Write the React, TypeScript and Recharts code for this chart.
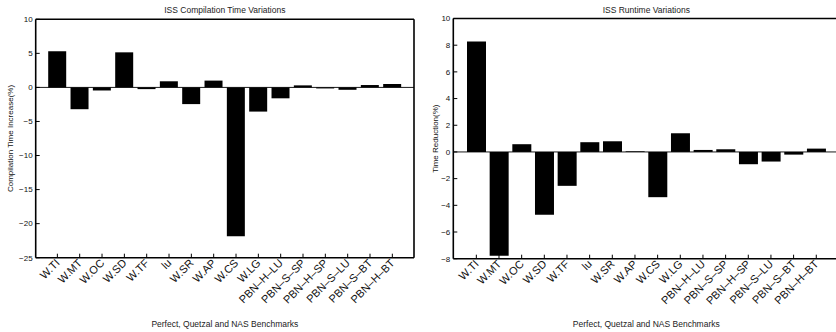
import React from 'react';
import { BarChart, Bar, XAxis, YAxis, ReferenceLine, Label } from 'recharts';

// Benchmarks along the x axis (Perfect, Quetzal and NAS suites)
const benchmarks = [
  'W.TI', 'W.MT', 'W.OC', 'W.SD', 'W.TF', 'lu', 'W.SR', 'W.AP', 'W.CS', 'W.LG',
  'PBN–H–LU', 'PBN–S–SP', 'PBN–H–SP', 'PBN–S–LU', 'PBN–S–BT', 'PBN–H–BT',
];

// Compilation time increase (%) per benchmark
const compileIncrease = [
  5.3, -3.2, -0.45, 5.15, -0.25, 0.9, -2.45, 1.0, -21.85, -3.55,
  -1.6, 0.3, -0.15, -0.35, 0.35, 0.5,
];

// Runtime reduction (%) per benchmark
const runtimeReduction = [
  8.28, -7.78, 0.58, -4.71, -2.54, 0.73, 0.8, 0.05, -3.39, 1.4,
  0.15, 0.2, -0.92, -0.72, -0.2, 0.25,
];

const compileTicks = [10, 5, 0, -5, -10, -15, -20, -25];
const runtimeTicks = [10, 8, 6, 4, 2, 0, -2, -4, -6, -8];

const FONT = '"Liberation Sans", Arial, Helvetica, sans-serif';
const INK = '#111';

const compileData = benchmarks.map((name, i) => ({ name, value: compileIncrease[i] }));
const runtimeData = benchmarks.map((name, i) => ({ name, value: runtimeReduction[i] }));

const fmt = (v: number) => String(v).replace('-', '\u2212');

// Left axis tick: label outside, short tick mark pointing into the plot
function YTick(props: any) {
  const { x, y, payload } = props;
  return (
    <g>
      <line x1={x} y1={y} x2={x + 4} y2={y} stroke="#000" strokeWidth={1} />
      <text x={x - 3} y={y} dy="0.35em" textAnchor="end" fontSize={8} fill={INK} fontFamily={FONT}>
        {fmt(payload.value)}
      </text>
    </g>
  );
}

// Bottom axis tick: inward tick mark and a label rotated by 45 degrees
function XTick(props: any) {
  const { x, y, payload } = props;
  const tx = x + 3;
  const ty = y + 6;
  return (
    <g>
      <line x1={x} y1={y} x2={x} y2={y - 4} stroke="#000" strokeWidth={1} />
      <g transform={`translate(${tx} ${ty}) rotate(-45)`}>
        <text x={0} y={0} textAnchor="end" fontSize={11} fill={INK} fontFamily={FONT}>
          {payload.value}
        </text>
      </g>
    </g>
  );
}

function yTitle(text: string, dx: number) {
  return (props: any) => {
    const vb = props.viewBox;
    const cx = vb.x + dx;
    const cy = vb.y + vb.height / 2;
    return (
      <g transform={`translate(${cx} ${cy}) rotate(-90)`}>
        <text x={0} y={0} textAnchor="middle" dominantBaseline="central" fontSize={8} fill={INK} fontFamily={FONT}>
          {text}
        </text>
      </g>
    );
  };
}

type PanelProps = {
  data: { name: string; value: number }[];
  title: string;
  yLabel: string;
  domain: [number, number];
  ticks: number[];
  width: number;
  margin: { top: number; right: number; bottom: number; left: number };
  pad: number;
  barSize: number;
  xHeight: number;
  yLabelDx: number;
};

function Panel(p: PanelProps) {
  const axisLine = { stroke: '#000', strokeWidth: 1.6 };
  return (
    <BarChart width={p.width} height={332} data={p.data} margin={p.margin}>
      <XAxis
        xAxisId="top"
        orientation="top"
        dataKey="name"
        mirror
        height={1}
        tick={false}
        tickSize={4}
        tickLine={{ stroke: '#000' }}
        axisLine={axisLine}
        padding={{ left: p.pad, right: p.pad }}
        interval={0}
      >
        <Label value={p.title} position="top" offset={6} fontSize={8.5} fill="#222" fontFamily={FONT} />
      </XAxis>
      <XAxis
        dataKey="name"
        height={p.xHeight}
        tick={<XTick />}
        tickLine={false}
        tickSize={0}
        tickMargin={0}
        axisLine={axisLine}
        padding={{ left: p.pad, right: p.pad }}
        interval={0}
      >
        <Label
          value="Perfect, Quetzal and NAS Benchmarks"
          position="insideBottom"
          offset={5}
          fontSize={8.5}
          fill="#222"
          fontFamily={FONT}
        />
      </XAxis>
      <YAxis
        type="number"
        domain={p.domain}
        ticks={p.ticks}
        width={30}
        tick={<YTick />}
        tickLine={false}
        tickSize={0}
        tickMargin={0}
        axisLine={axisLine}
        interval={0}
      >
        <Label content={yTitle(p.yLabel, p.yLabelDx)} />
      </YAxis>
      <YAxis
        yAxisId="r"
        orientation="right"
        type="number"
        domain={p.domain}
        ticks={p.ticks}
        width={1}
        mirror
        tick={false}
        tickSize={4}
        tickLine={{ stroke: '#000' }}
        axisLine={axisLine}
        interval={0}
      />
      <ReferenceLine y={0} stroke="#000" strokeWidth={0.9} />
      <Bar dataKey="value" fill="#000" barSize={p.barSize} isAnimationActive={false} />
    </BarChart>
  );
}

export default function App() {
  return (
    <div
      style={{
        position: 'absolute',
        left: 0,
        top: 0,
        width: 836,
        height: 332,
        overflow: 'hidden',
        background: '#fff',
      }}
    >
      <div style={{ position: 'absolute', left: 0, top: 0 }}>
        <Panel
          data={compileData}
          title="ISS Compilation Time Variations"
          yLabel="Compilation Time Increase(%)"
          domain={[-25, 10]}
          ticks={compileTicks}
          width={418}
          margin={{ top: 19.3, right: 4, bottom: 0, left: 5.7 }}
          pad={10.5}
          barSize={18}
          xHeight={74.3}
          yLabelDx={4.5}
        />
      </div>
      <div style={{ position: 'absolute', left: 418, top: 0 }}>
        <Panel
          data={runtimeData}
          title="ISS Runtime Variations"
          yLabel="Time Reduction(%)"
          domain={[-8, 10]}
          ticks={runtimeTicks}
          width={424}
          margin={{ top: 18.5, right: 2.7, bottom: 0, left: 5.3 }}
          pad={11.7}
          barSize={19}
          xHeight={73.3}
          yLabelDx={12}
        />
      </div>
    </div>
  );
}
